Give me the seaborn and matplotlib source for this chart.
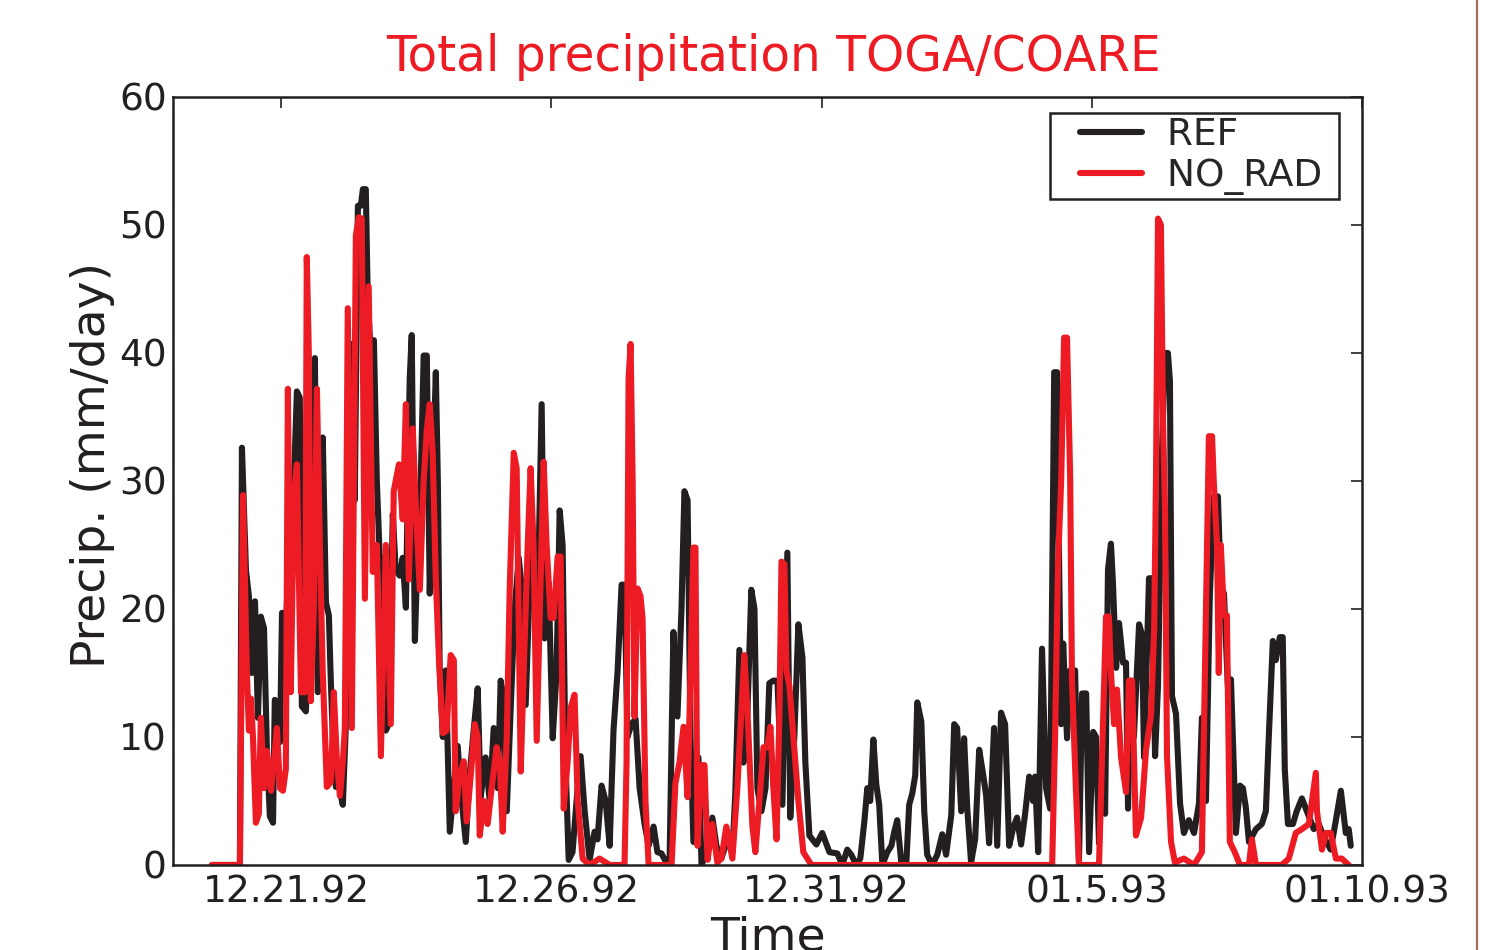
import numpy as np
import pandas as pd
import matplotlib
matplotlib.use("Agg")
import matplotlib.pyplot as plt
import matplotlib.transforms as mtransforms
from matplotlib.lines import Line2D
from matplotlib.legend_handler import HandlerLine2D
import seaborn as sns

# hours since 1992-12-19 00Z and precipitation (mm/day)
ref_hours = [17.3, 29.7, 30.6, 32.4, 33.7, 35.0, 36.4, 37.7, 39.0, 40.4, 41.7, 43.0, 44.4, 45.2, 46.6, 47.5,
             48.4, 49.7, 51.0, 52.3, 53.7, 55.0, 56.3, 57.2, 59.0, 60.3, 61.7, 63.0, 64.3, 65.7, 66.5, 67.9,
             69.2, 70.1, 71.4, 72.3, 73.6, 74.5, 75.4, 76.7, 78.1, 79.4, 80.7, 82.1, 83.4, 84.3, 85.6, 86.5,
             87.8, 89.2, 90.5, 91.8, 93.2, 94.5, 95.8, 97.6, 98.9, 100.7, 102.0, 103.4, 105.1, 106.0, 107.4,
             108.7, 110.0, 111.3, 112.7, 114.0, 115.3, 116.7, 117.6, 118.4, 119.8, 121.1, 122.9, 124.7, 126.4,
             128.2, 130.0, 131.7, 133.5, 135.3, 136.6, 138.8, 140.6, 142.4, 144.2, 145.5, 146.8, 148.2, 149.9,
             151.7, 153.5, 155.3, 156.6, 158.4, 160.1, 161.9, 163.7, 165.0, 166.8, 168.6, 170.3, 171.7, 173.0,
             174.3, 175.7, 177.4, 179.2, 181.0, 182.8, 185.0, 187.2, 188.5, 190.3, 192.1, 193.9, 195.6, 197.4,
             199.2, 200.5, 201.8, 203.6, 205.4, 207.2, 209.4, 211.2, 213.4, 215.1, 216.9, 218.7, 220.5, 222.2,
             224.0, 225.8, 227.1, 228.5, 229.8, 231.1, 233.3, 234.7, 236.9, 239.5, 241.3, 243.5, 246.2, 248.4,
             249.7, 251.5, 253.3, 255.1, 256.8, 258.2, 259.5, 261.3, 263.1, 264.8, 266.6, 268.4, 270.6, 272.8,
             274.1, 275.9, 277.7, 279.5, 280.8, 282.6, 285.7, 288.3, 291.5, 295.0, 297.2, 299.4, 301.2, 303.4,
             305.2, 307.0, 308.3, 309.6, 311.0, 312.3, 313.6, 315.0, 317.2, 319.0, 320.3, 321.6, 323.4, 325.6,
             326.9, 328.3, 329.6, 330.5, 332.3, 333.6, 334.9, 337.1, 339.4, 341.6, 343.3, 345.6, 346.9, 348.2,
             350.0, 351.3, 352.7, 354.4, 356.2, 358.0, 359.8, 361.1, 362.4, 364.6, 366.0, 367.7, 369.5, 371.3,
             373.1, 374.8, 376.6, 378.4, 380.2, 381.9, 382.8, 384.2, 385.9, 387.7, 389.5, 391.3, 392.6, 393.5,
             394.4, 395.3, 397.0, 398.4, 400.6, 402.3, 403.7, 405.5, 406.8, 408.6, 409.9, 411.2, 412.5, 413.9,
             415.2, 416.5, 417.4, 418.8, 420.1, 421.9, 423.2, 424.1, 425.4, 426.7, 429.0, 430.3, 431.2, 433.4,
             434.7, 436.1, 437.4, 439.2, 440.5, 441.8, 442.7, 443.6, 445.4, 447.2, 448.9, 451.1, 453.4, 455.6,
             456.9, 458.7, 460.4, 462.2, 464.0, 465.3, 466.7, 468.4, 469.8, 472.0, 473.8, 475.1, 476.4, 477.8,
             480.9, 483.5, 485.3, 486.6, 488.4, 489.7, 491.5, 492.8, 493.7, 495.1, 497.3, 499.0, 501.3, 503.5,
             506.6, 508.8, 511.0, 514.1, 516.4, 518.6, 520.8, 522.1, 523.0]
ref_precip = [0, 0, 32.6, 23, 21, 15, 20.6, 11.5, 19.4, 18.5, 8.9, 3.8, 3.3, 12.9, 12.5, 9.6,
              19.7, 17, 22, 20, 30, 37, 36.5, 12.4, 12, 20, 32, 39.6, 13.5, 20, 33.4, 20.5,
              19.5, 14.2, 8, 6.1, 6.5, 5.4, 4.7, 10.7, 30, 40.7, 28.5, 51.5, 51.5, 52.8, 52.8, 44,
              40, 41, 30, 24, 23.9, 10.5, 11, 27.4, 23, 22.6, 24, 20.1, 38, 41.4, 17.5,
              25, 30, 39.8, 39.8, 21.2, 30, 38.5, 30, 15.5, 10, 15.2, 2.6, 6, 9.3,
              5, 1.8, 7, 10.5, 13.8, 5.3, 8.4, 5, 10.7, 6, 14.4, 13, 4.2, 12,
              20, 24, 20.9, 12.5, 22, 25, 20, 36, 17.7, 22, 9.9, 15, 27.7, 25,
              8, 0.4, 1, 5, 8.5, 4.2, 0.4, 2.6, 2, 6.2, 5, 1.5, 10.5, 15.1,
              21.9, 21.9, 10, 11, 11.4, 6, 3.2, 1.5, 3, 1, 0.9, 0.3, 0.3, 18.2,
              11.6, 20, 29.2, 28.5, 10, 1.8, 8.4, 0, 1, 3.7, 1.5, 0.5, 2, 1,
              5.6, 16.8, 8, 12, 21.5, 20, 6, 4.2, 6, 14.2, 14.4, 14.4, 4.7, 24.4,
              3.7, 10, 18.8, 16.2, 8, 2.3, 1.6, 2.5, 1, 0.9, 0, 1.2, 0.8, 0,
              0.5, 3.4, 6, 5, 9.8, 6.3, 4.7, 0, 1, 1.5, 2.6, 3.5, 0.2, 0,
              4.7, 5.6, 7, 12.7, 11.2, 4.2, 0.8, 0, 0.8, 2.4, 0.8, 3.9, 11, 10.7,
              4.2, 9.9, 4.4, 0.2, 2, 9, 7, 5.4, 1.7, 10.7, 1.5, 11.9, 11, 1.5,
              2.9, 3.7, 1.6, 4, 6.9, 5, 6.9, 1, 16.9, 6, 4.4, 38.5, 38.5, 23.4,
              11, 17.3, 9.9, 15.2, 15.2, 0.3, 13.4, 13.4, 1, 10.4, 10, 1.7, 8.4, 4,
              23.1, 25.1, 22, 15.4, 18.9, 15.8, 15.8, 4.4, 14.4, 10, 18.8, 18, 8.4, 22.4,
              22.4, 8.5, 14, 32.5, 40, 40, 37.8, 13.2, 11.8, 4.8, 2.5, 3.5, 2.5, 4.8,
              11.5, 5, 21, 28.8, 28.8, 21.8, 21.2, 14, 14.5, 2.5, 6.2, 6, 4.5, 1.8,
              2.8, 3.2, 4.2, 10, 17.5, 16, 17.8, 17.8, 7.5, 3.2, 3.2, 4.2, 5.2, 4.2,
              2.8, 3.2, 2.2, 1.2, 3.5, 5.8, 2.5, 2.8, 1.5]

norad_hours = [17.3, 29.7, 31.1, 32.8, 33.7, 34.6, 35.5, 36.8, 38.1, 39.0, 40.4, 41.7, 43.5, 44.8, 46.1,
               47.5, 48.8, 50.1, 51.0, 52.3, 53.7, 55.0, 56.8, 58.6, 59.4, 60.3, 61.2, 62.5, 63.9, 65.2,
               66.5, 68.3, 70.1, 71.4, 72.8, 74.1, 75.4, 76.3, 77.6, 79.4, 81.2, 82.5, 83.8, 85.2, 86.9,
               88.7, 90.5, 92.3, 94.5, 96.7, 98.0, 100.3, 102.0, 103.4, 104.7, 106.5, 107.8, 109.6, 111.3,
               112.7, 114.0, 115.3, 116.7, 118.1, 119.8, 121.5, 123.3, 124.7, 125.5, 127.3, 129.1, 130.4,
               132.2, 134.0, 135.3, 136.2, 138.0, 139.7, 141.5, 143.7, 145.1, 146.4, 148.2, 149.5, 151.3,
               152.6, 154.4, 155.7, 157.5, 158.8, 160.1, 161.5, 163.2, 164.6, 165.9, 167.7, 169.0, 170.8,
               172.1, 173.5, 175.2, 176.6, 178.3, 179.7, 181.9, 185.0, 189.4, 193.9, 200.5, 201.4, 202.3,
               203.2, 204.1, 204.9, 206.3, 207.6, 208.5, 209.8, 211.2, 221.4, 223.1, 224.9, 226.7, 228.5,
               230.2, 231.1, 232.0, 232.9, 234.7, 236.0, 237.4, 239.5, 241.7, 243.5, 245.7, 248.4, 250.6,
               252.4, 253.7, 255.1, 257.3, 258.6, 260.4, 262.2, 263.9, 265.3, 266.6, 268.0, 269.3, 270.2,
               271.5, 272.4, 273.7, 275.5, 277.7, 279.9, 283.5, 390.4, 391.7, 393.0, 394.4, 395.7, 397.0,
               398.4, 399.2, 401.0, 402.3, 411.2, 412.5, 414.3, 415.6, 416.5, 417.9, 419.2, 421.0, 423.2,
               424.5, 425.9, 427.6, 429.9, 432.1, 434.3, 435.7, 436.5, 437.4, 438.7, 439.6, 440.5, 441.4,
               443.2, 444.9, 448.9, 453.4, 456.9, 458.7, 460.0, 461.4, 462.2, 463.6, 464.4, 465.3, 466.7,
               468.0, 469.3, 471.5, 473.8, 477.8, 479.1, 480.9, 492.4, 495.5, 498.6, 501.3, 504.4, 507.5,
               508.0, 510.2, 512.0, 514.1, 516.4, 519.0, 522.1]
norad_precip = [0, 0, 28.9, 15, 10.5, 13, 10, 3.3, 4, 11.5, 6, 8.9, 5.8, 8, 10.7,
                6, 5.8, 7.5, 37.2, 13.5, 29, 31.3, 13.5, 13.5, 47.5, 40, 12.8, 20, 37.2, 25,
                15, 6.1, 6.5, 13.5, 8, 5.4, 8, 10.7, 43.5, 10.7, 49.2, 50.6, 50.5, 20.8, 45.2,
                22.9, 25, 8.5, 25, 11, 29.2, 31.3, 27, 36, 22.3, 34.1, 28, 21.5, 30,
                34, 36, 32.2, 22.3, 16, 10.3, 10.5, 16.4, 16, 4.2, 7, 8.1, 3.4,
                7, 11, 10, 2.3, 5, 3.2, 6, 9.2, 8, 2.6, 10, 21.5, 32.2,
                31, 7.3, 15, 25, 31, 25, 9.7, 22, 31.5, 25, 19.3, 19.3, 24.1,
                24.1, 4.4, 8, 12.3, 13.3, 5, 0.5, 0, 0.5, 0, 0, 8, 38,
                40.7, 30, 11.6, 21.6, 21, 19.3, 5, 0, 0, 6.4, 8, 10.8, 5.3,
                18, 24.8, 24.8, 1.5, 7.8, 7.8, 0.4, 3.2, 0.2, 0.5, 3, 0.5, 6,
                12, 16.4, 12, 3, 1, 5, 9.2, 9.2, 10.8, 6, 2, 12, 23.7,
                23.5, 15.2, 14, 10, 5, 1, 0, 0, 10, 23.4, 30, 41.2, 41.2,
                30.3, 14.4, 5.7, 0, 0, 8, 19.4, 19.4, 15.1, 11, 13.7, 8.4, 5.7,
                14.4, 14.4, 2.3, 3.7, 9, 11.7, 18.4, 30, 50.5, 50, 35, 27.8, 8.5,
                1.8, 0.2, 0.5, 0, 1, 20, 33.5, 33.5, 29.8, 25, 15, 25, 19.5,
                19.5, 1.8, 1, 0, 0, 2, 0, 0, 0.5, 2.5, 2.8, 3.2, 7.2,
                4.2, 1.2, 2.5, 2.5, 0.5, 0.5, 0]

tick_dates = ["1992-12-21", "1992-12-26", "1992-12-31", "1993-01-05", "1993-01-10"]
tick_labels = ["12.21.92", "12.26.92", "12.31.92", "01.5.93", "01.10.93"]

start = pd.Timestamp("1992-12-19")
df = pd.concat([
    pd.DataFrame({"time": start + pd.to_timedelta(ref_hours, unit="h"), "precip": ref_precip, "run": "REF"}),
    pd.DataFrame({"time": start + pd.to_timedelta(norad_hours, unit="h"), "precip": norad_precip, "run": "NO_RAD"}),
])

black = "#231f20"
red = "#ed1c24"

sns.set_style("white", {"xtick.direction": "in", "ytick.direction": "in"})
plt.rcParams["font.family"] = ["DejaVu Sans"]

fig = plt.figure(figsize=(15.02, 9.5), dpi=100)
ax = fig.add_axes([0.1152, 0.0895, 0.7916, 0.8084])

sns.lineplot(data=df, x="time", y="precip", hue="run", palette={"REF": black, "NO_RAD": red},
             estimator=None, sort=False, linewidth=4.4, ax=ax, legend=False)

ax.set_xlim(start, pd.Timestamp("1993-01-10"))
ax.set_ylim(0, 60)
ax.set_xticks(pd.to_datetime(tick_dates))
ax.set_xticklabels(tick_labels)
ax.set_yticks(range(0, 61, 10))
ax.tick_params(axis="both", which="major", labelsize=27, direction="in", length=8, width=1.2,
               top=True, right=True, color=black, labelcolor=black)
ax.tick_params(axis="x", pad=7)
ax.tick_params(axis="y", pad=4.5)
# date labels sit a little right of their ticks in the original
shift = mtransforms.ScaledTranslation(5 / 100, 0, fig.dpi_scale_trans)
for lab in ax.get_xticklabels():
    lab.set_transform(lab.get_transform() + shift)
for s in ax.spines.values():
    s.set_linewidth(1.8)
    s.set_color(black)

ax.set_title("Total precipitation TOGA/COARE", color=red, fontsize=35, pad=19, x=0.505)
ax.set_ylabel("Precip. (mm/day)", fontsize=34, color=black)
ax.yaxis.set_label_coords(-0.049, 0.521)
ax.set_xlabel("Time", fontsize=34, color=black)
ax.xaxis.set_label_coords(0.5, -0.066)

handles = [Line2D([], [], color=black, lw=4.4), Line2D([], [], color=red, lw=4.4)]
leg = ax.legend(handles, ["REF ", "NO_RAD "], loc="upper right", bbox_to_anchor=(0.9807, 0.9792),
                borderaxespad=0, fontsize=27, frameon=True, fancybox=False, edgecolor=black,
                borderpad=0.12, labelspacing=0.12, handlelength=3.0, handletextpad=0.0, numpoints=2,
                handler_map={Line2D: HandlerLine2D(marker_pad=0.68)})
leg.get_frame().set_linewidth(1.8)
leg.get_frame().set_alpha(1)

# page edge on the right of the original scan
fig.add_artist(Line2D([0.9834, 0.9834], [0, 1], transform=fig.transFigure, color="#a0705a", lw=1.6))

fig.savefig("out.png", dpi=100, facecolor="white")
